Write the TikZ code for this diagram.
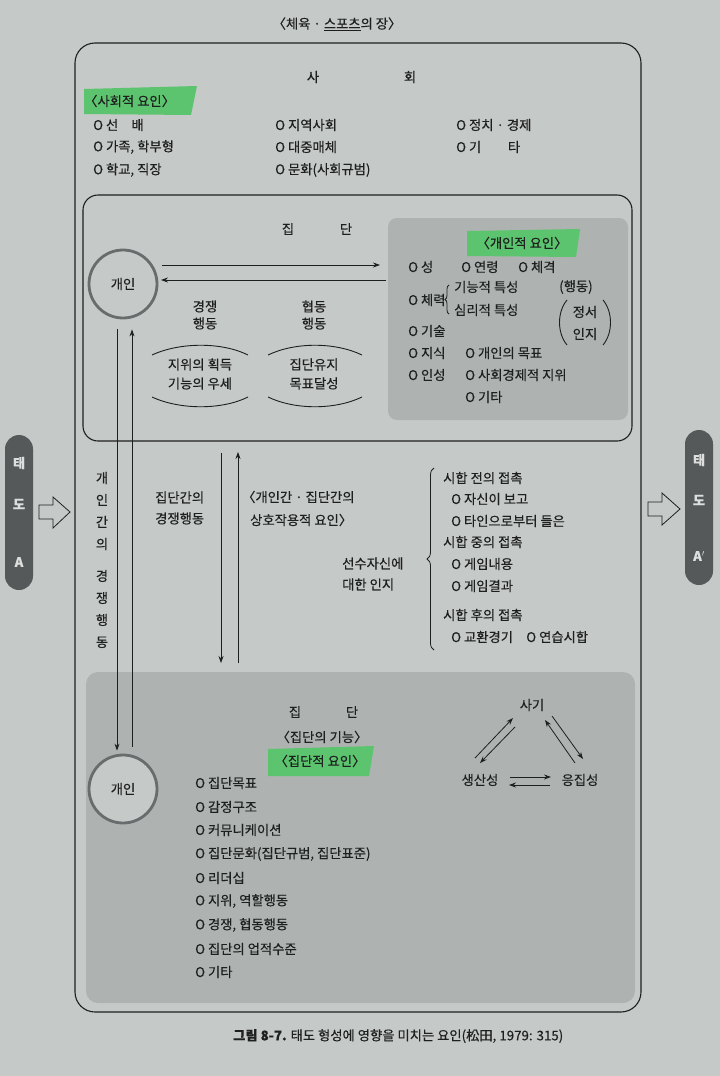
\documentclass[tikz,border=0pt]{standalone}
\usepackage{fontspec}
\setmainfont{Noto Sans CJK KR}[FakeBold=0.35]
\usetikzlibrary{arrows.meta,decorations.pathreplacing,calc}
\definecolor{paper}{RGB}{197,201,199}
\definecolor{boxgrey}{RGB}{174,179,177}
\definecolor{pillc}{RGB}{86,89,89}
\definecolor{hl}{RGB}{92,196,110}
\definecolor{ink}{RGB}{30,32,32}
\definecolor{ringc}{RGB}{105,108,108}
\begin{document}
\begin{tikzpicture}[x=1pt,y=-1pt,
  txt/.style={font=\fontsize{13.3}{15}\selectfont, text=ink, inner sep=0pt},
  item/.style={txt, anchor=west},
  conn/.style={draw=ink, line width=0.8pt, -{Stealth[length=7pt,width=5pt]}},
  frm/.style={draw=ink, line width=1.1pt},
  hlbox/.style={fill=hl},
  pillbox/.style={fill=pillc, rounded corners=14pt},
  pilltxt/.style={font=\fontsize{13}{15}\selectfont\bfseries, text=white!80!pillc, inner sep=0pt},
  ringnode/.style={circle, draw=ringc, line width=2.8pt, fill=paper, minimum size=68pt, inner sep=0pt, txt},
  brc/.style={draw=ink, line width=0.8pt, decorate},
  arcline/.style={draw=ink, line width=0.9pt},
  hollow/.style={draw=ink, line width=0.8pt, fill=paper, line join=miter}
]
\useasboundingbox (0,0) rectangle (720,1076);
\fill[paper] (0,0) rectangle (720,1076);

% ---------- title and outer frame ----------
\node[txt] (title) at (337,24) {〈체육 · \underline{스포츠}의 장〉};
\draw[frm, rounded corners=20pt] (75,43) rectangle (641,1012);
\node[txt] (soc1) at (313,77) {사};
\node[txt] (soc2) at (410,77) {회};
\fill[hlbox] (84,89) -- (197,86) -- (191,115) -- (84,114) -- cycle;
\node[item] (sf) at (84,101) {〈사회적 요인〉};
\node[item] (s11) at (93,125) {O 선\quad 배};
\node[item] (s12) at (93,147) {O 가족, 학부형};
\node[item] (s13) at (93,170) {O 학교, 직장};
\node[item] (s21) at (275,125) {O 지역사회};
\node[item] (s22) at (275,147) {O 대중매체};
\node[item] (s23) at (275,170) {O 문화(사회규범)};
\node[item] (s31) at (456,125) {O 정치 · 경제};
\node[item] (s32) at (456,147) {O 기\qquad 타};

% ---------- upper group box ----------
\draw[frm, rounded corners=15pt] (83,195) rectangle (632,441);
\fill[boxgrey, rounded corners=9pt] (388,218) rectangle (628,420);
\node[txt] (g1a) at (288,229) {집};
\node[txt] (g1b) at (346,229) {단};
\node[ringnode] (p1) at (123,284) {개인};

\coordinate (ia) at (380,265);
\coordinate (ib) at (386,280);
\coordinate (pa) at (162,265);
\coordinate (pb) at (161,280);
\draw[conn] (pa) -- (ia);
\draw[conn] (ib) -- (pb);

\node[txt, align=center] (comp) at (205,315) {경쟁\\[2pt]행동};
\node[txt, align=center] (coop) at (314,315) {협동\\[2pt]행동};
\node[txt, align=center] (compg) at (200,374) {지위의 획득\\[4pt]기능의 우세};
\node[txt, align=center] (coopg) at (314,374) {집단유지\\[4pt]목표달성};
\draw[arcline] (152,355) .. controls (180,342) and (222,342) .. (248,355);
\draw[arcline] (152,397) .. controls (180,410) and (222,410) .. (248,397);
\draw[arcline] (268,355) .. controls (295,342) and (335,342) .. (362,355);
\draw[arcline] (268,397) .. controls (295,410) and (335,410) .. (362,397);

% individual factors
\fill[hlbox] (467,231) -- (580,229) -- (576,257) -- (467,256) -- cycle;
\node[txt] (if) at (522,243) {〈개인적 요인〉};
\node[item] (i1) at (408,267) {O 성};
\node[item] (i2) at (461,267) {O 연령};
\node[item] (i3) at (518,267) {O 체격};
\node[item] (i4) at (408,300) {O 체력};
\draw[brc, decoration={brace, amplitude=4pt}] (449,314) -- (449,285);
\node[item] (i4a) at (454,287) {기능적 특성};
\node[item] (i4b) at (454,310) {심리적 특성};
\node[item] (i4c) at (559,287) {(행동)};
\node[txt] (i4d) at (585,312) {정서};
\node[txt] (i4e) at (585,334) {인지};
\draw[arcline] (567,300) .. controls (557,312) and (557,333) .. (567,345);
\draw[arcline] (603,300) .. controls (613,312) and (613,333) .. (603,345);
\node[item] (i5) at (408,331) {O 기술};
\node[item] (i6) at (408,353) {O 지식};
\node[item] (i7) at (408,375) {O 인성};
\node[item] (i8) at (465,353) {O 개인의 목표};
\node[item] (i9) at (465,375) {O 사회경제적 지위};
\node[item] (i10) at (465,397) {O 기타};

% ---------- middle ----------
\node[txt, align=center] (vt) at (102,560) {개\\[7pt]인\\[7pt]간\\[7pt]의\\[17pt]경\\[7pt]쟁\\[7pt]행\\[7pt]동};
\node[txt, align=left, anchor=west] (icg) at (155,508) {집단간의\\[6pt]경쟁행동};
\node[item] (ii1) at (242,497) {〈개인간 · 집단간의};
\node[item] (ii2) at (250,520) {상호작용적 요인〉};
\coordinate (m1a) at (221,453);
\coordinate (m1b) at (221,663);
\coordinate (m2a) at (238,663);
\coordinate (m2b) at (238,452);
\draw[conn] (m1a) -- (m1b);
\draw[conn] (m2a) -- (m2b);

\node[txt, align=left, anchor=west] (self) at (342,574) {선수자신에\\[6pt]대한 인지};
\draw[brc, decoration={brace, amplitude=7pt}] (434,650) -- (434,468);
\node[item] (c1) at (443,478) {시합 전의 접촉};
\node[item] (c2) at (451,499) {O 자신이 보고};
\node[item] (c3) at (451,521) {O 타인으로부터 들은};
\node[item] (c4) at (443,542) {시합 중의 접촉};
\node[item] (c5) at (451,564) {O 게임내용};
\node[item] (c6) at (451,586) {O 게임결과};
\node[item] (c7) at (443,615) {시합 후의 접촉};
\node[item] (c8) at (451,637) {O 교환경기\quad O 연습시합};

% ---------- side pills ----------
\fill[pillbox] (5,435) rectangle (33,590);
\node[pilltxt] (ta1) at (19,463) {태};
\node[pilltxt] (ta2) at (19,504) {도};
\node[pilltxt] (ta3) at (19,562) {A};
\draw[hollow] (39,505) -- (53,505) -- (53,497) -- (70,512) -- (53,528) -- (53,519) -- (39,519) -- cycle;
\fill[pillbox] (685,430) rectangle (713,585);
\node[pilltxt] (tb1) at (699,460) {태};
\node[pilltxt] (tb2) at (699,500) {도};
\node[pilltxt] (tb3) at (699,556) {A$'$};
\draw[hollow] (648,502) -- (662,502) -- (662,493) -- (680,509) -- (662,525) -- (662,516) -- (648,516) -- cycle;

% ---------- lower group ----------
\fill[boxgrey, rounded corners=12pt] (86,672) rectangle (635,1003);
\node[ringnode] (p2) at (123,789) {개인};
\draw[conn] ($(p1.south)+(-6,10)$) -- ($(p2.north)+(-6,-3)$);
\draw[conn] ($(p2.north)+(9,-7)$) -- ($(p1.south)+(9,10)$);

\node[txt] (g2a) at (295,712) {집};
\node[txt] (g2b) at (352,712) {단};
\node[txt] (gf) at (322,737) {〈집단의 기능〉};
\fill[hlbox] (268,749) -- (374,746) -- (369,776) -- (268,776) -- cycle;
\node[txt] (gfac) at (320,761) {〈집단적 요인〉};
\node[item] (b1) at (195,783) {O 집단목표};
\node[item] (b2) at (195,807) {O 감정구조};
\node[item] (b3) at (195,830) {O 커뮤니케이션};
\node[item] (b4) at (195,854) {O 집단문화(집단규범, 집단표준)};
\node[item] (b5) at (195,878) {O 리더십};
\node[item] (b6) at (195,901) {O 지위, 역할행동};
\node[item] (b7) at (195,925) {O 경쟁, 협동행동};
\node[item] (b8) at (195,949) {O 집단의 업적수준};
\node[item] (b9) at (195,972) {O 기타};

\node[txt] (sagi) at (532,705) {사기};
\node[txt] (prod) at (480,780) {생산성};
\node[txt] (coh) at (580,780) {응집성};
\draw[conn] ($(prod)+(-5,-22)$) -- ($(sagi)+(-19,13)$);
\draw[conn] ($(sagi)+(-17,22)$) -- ($(prod)+(0,-17)$);
\draw[conn] ($(coh)+(-5,-17)$) -- ($(sagi)+(13,15)$);
\draw[conn] ($(sagi)+(20,11)$) -- ($(coh)+(3,-21)$);
\draw[conn] ($(prod)+(30,-3)$) -- ($(coh)+(-29,-3)$);
\draw[conn] ($(coh)+(-30,5)$) -- ($(prod)+(29,5)$);

% ---------- caption ----------
\node[txt, anchor=west] (cap) at (233,1036) {\textbf{그림 8-7.} 태도 형성에 영향을 미치는 요인(松田, 1979: 315)};
\end{tikzpicture}
\end{document}
